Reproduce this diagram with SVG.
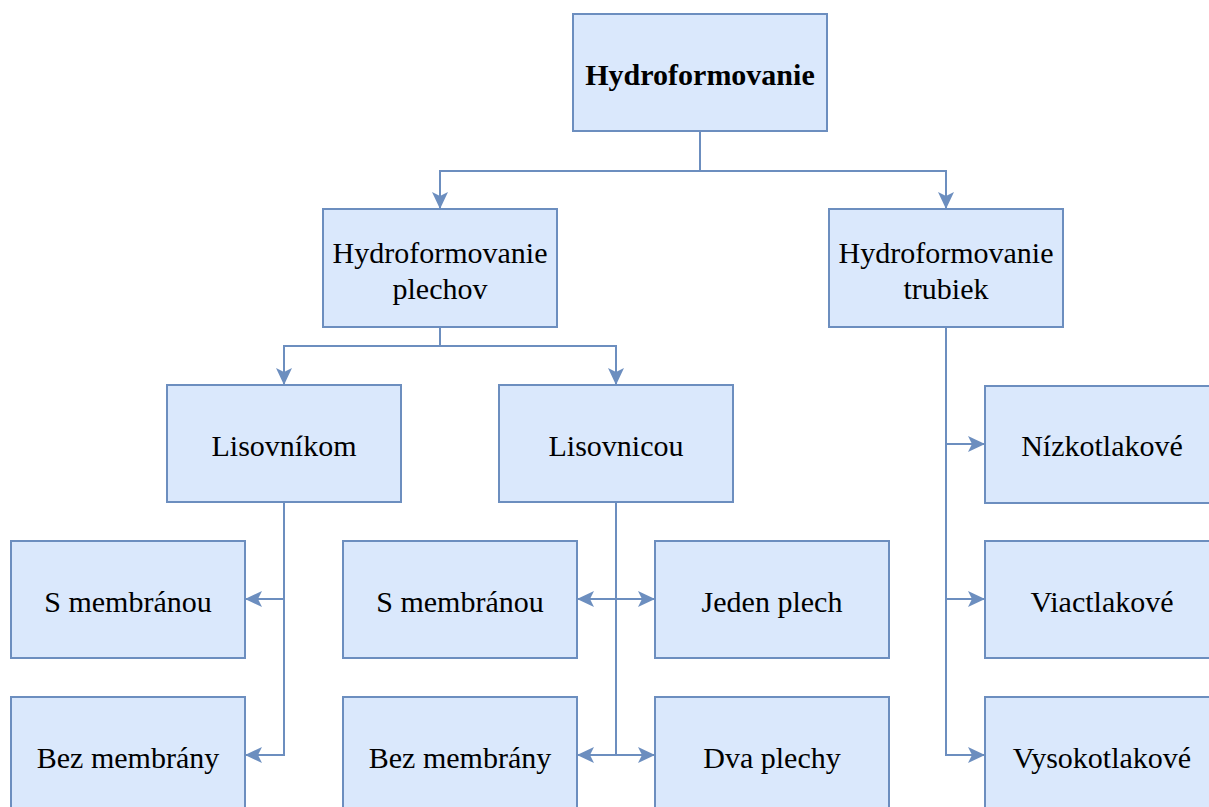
<svg xmlns="http://www.w3.org/2000/svg" width="1209" height="807" viewBox="0 0 1209 807">
<style>
.box{fill:#dae8fc;stroke:#6c8ebf;stroke-width:2}
.t{font-family:"Liberation Serif","Times New Roman",serif;font-size:30px;fill:#000;text-anchor:middle}
.b{font-weight:bold}
.c{fill:none;stroke:#6c8ebf;stroke-width:2}
</style>
<defs>
<marker id="arr" markerUnits="userSpaceOnUse" markerWidth="17" markerHeight="16" refX="16" refY="8" orient="auto">
<path d="M0,0 L17,8 L0,16 L4,8 Z" fill="#6c8ebf"/>
</marker>
</defs>
<rect width="1209" height="807" fill="#fff"/>
<g id="connectors">
<path class="c" d="M700,131 V171 H440 V208" marker-end="url(#arr)"/>
<path class="c" d="M700,131 V171 H946 V208" marker-end="url(#arr)"/>
<path class="c" d="M440,327 V346 H284 V384" marker-end="url(#arr)"/>
<path class="c" d="M440,327 V346 H616 V384" marker-end="url(#arr)"/>
<path class="c" d="M284,502 V599 H246" marker-end="url(#arr)"/>
<path class="c" d="M284,502 V755 H246" marker-end="url(#arr)"/>
<path class="c" d="M616,502 V599 H578" marker-end="url(#arr)"/>
<path class="c" d="M616,502 V599 H654" marker-end="url(#arr)"/>
<path class="c" d="M616,502 V755 H578" marker-end="url(#arr)"/>
<path class="c" d="M616,502 V755 H654" marker-end="url(#arr)"/>
<path class="c" d="M946,327 V444 H984" marker-end="url(#arr)"/>
<path class="c" d="M946,327 V599 H984" marker-end="url(#arr)"/>
<path class="c" d="M946,327 V755 H984" marker-end="url(#arr)"/>
</g>
<g id="n-root"><rect class="box" x="573" y="14" width="254" height="117"/><text class="t b" x="700" y="85">Hydroformovanie</text></g>
<g id="n-plechov"><rect class="box" x="323" y="209" width="234" height="118"/><text class="t" x="440" y="263">Hydroformovanie</text><text class="t" x="440" y="299">plechov</text></g>
<g id="n-trubiek"><rect class="box" x="829" y="209" width="234" height="118"/><text class="t" x="946" y="263">Hydroformovanie</text><text class="t" x="946" y="299">trubiek</text></g>
<g id="n-lisovnikom"><rect class="box" x="167" y="385" width="234" height="117"/><text class="t" x="284" y="456">Lisovníkom</text></g>
<g id="n-lisovnicou"><rect class="box" x="499" y="385" width="234" height="117"/><text class="t" x="616" y="456">Lisovnicou</text></g>
<g id="n-l-smem"><rect class="box" x="11" y="541" width="234" height="117"/><text class="t" x="128" y="612">S membránou</text></g>
<g id="n-l-bezmem"><rect class="box" x="11" y="697" width="234" height="117"/><text class="t" x="128" y="768">Bez membrány</text></g>
<g id="n-m-smem"><rect class="box" x="343" y="541" width="234" height="117"/><text class="t" x="460" y="612">S membránou</text></g>
<g id="n-m-bezmem"><rect class="box" x="343" y="697" width="234" height="117"/><text class="t" x="460" y="768">Bez membrány</text></g>
<g id="n-jeden"><rect class="box" x="655" y="541" width="234" height="117"/><text class="t" x="772" y="612">Jeden plech</text></g>
<g id="n-dva"><rect class="box" x="655" y="697" width="234" height="117"/><text class="t" x="772" y="768">Dva plechy</text></g>
<g id="n-nizko"><rect class="box" x="985" y="386" width="234" height="117"/><text class="t" x="1102" y="456">Nízkotlakové</text></g>
<g id="n-viac"><rect class="box" x="985" y="541" width="234" height="117"/><text class="t" x="1102" y="612">Viactlakové</text></g>
<g id="n-vysoko"><rect class="box" x="985" y="697" width="234" height="117"/><text class="t" x="1102" y="768">Vysokotlakové</text></g>
</svg>
